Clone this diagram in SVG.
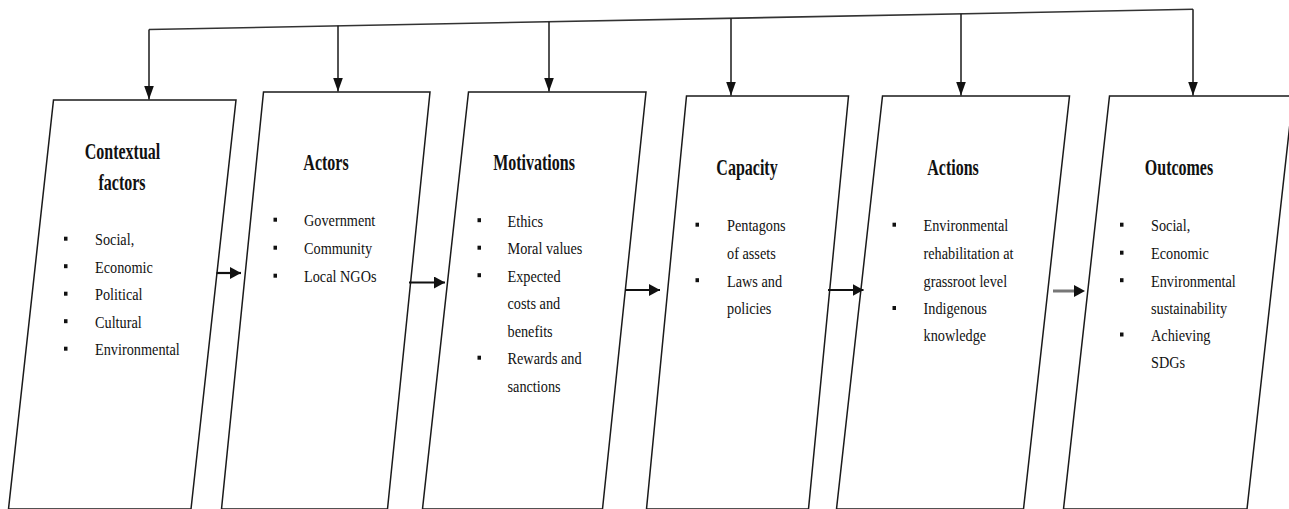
<svg xmlns="http://www.w3.org/2000/svg" width="1289" height="509" viewBox="0 0 1289 509">
  <style>
    .box { fill: #ffffff; stroke: #1a1a1a; stroke-width: 1.5; }
    .ttl { font-family: "Liberation Serif", "Times New Roman", serif; font-weight: bold; font-size: 24px; fill: #111; text-anchor: middle; }
    .itm { font-family: "Liberation Serif", "Times New Roman", serif; font-size: 17px; fill: #111; }
    .bul { fill: #111; }
    .top { fill: none; stroke: #333; stroke-width: 1.6; }
    .vline { stroke: #1a1a1a; stroke-width: 1.5; fill: none; }
    .hline { stroke: #111; stroke-width: 2.2; fill: none; }
    .hgray { stroke: #777; stroke-width: 3; fill: none; }
  </style>
  <defs>
    <marker id="vhead" markerUnits="userSpaceOnUse" markerWidth="14" markerHeight="10" refX="14" refY="5" orient="auto">
      <path d="M0,0 L14,5 L0,10 z" fill="#111"/>
    </marker>
    <marker id="hhead" markerUnits="userSpaceOnUse" markerWidth="11" markerHeight="12" refX="11" refY="6" orient="auto">
      <path d="M0,0 L11,6 L0,12 z" fill="#111"/>
    </marker>
  </defs>
  <rect width="1289" height="509" fill="#ffffff"/>

  <g id="node-contextual">
    <polygon class="box" points="53.5,100 236,100 191,509 8.5,509"/>
    <text class="ttl" transform="translate(122.5,159) scale(0.667,1)">Contextual</text>
    <text class="ttl" transform="translate(122,190) scale(0.667,1)">factors</text>
    <rect class="bul" x="64" y="236.7" width="3.5" height="4"/>
    <rect class="bul" x="64" y="264.2" width="3.5" height="4"/>
    <rect class="bul" x="64" y="291.7" width="3.5" height="4"/>
    <rect class="bul" x="64" y="319.2" width="3.5" height="4"/>
    <rect class="bul" x="64" y="346.7" width="3.5" height="4"/>
    <text class="itm" transform="translate(95,245) scale(0.84,1)">Social,</text>
    <text class="itm" transform="translate(95,272.5) scale(0.84,1)">Economic</text>
    <text class="itm" transform="translate(95,300) scale(0.84,1)">Political</text>
    <text class="itm" transform="translate(95,327.5) scale(0.84,1)">Cultural</text>
    <text class="itm" transform="translate(95,355) scale(0.84,1)">Environmental</text>
  </g>

  <g id="node-actors">
    <polygon class="box" points="263.5,92 430,92 387.5,509 221.5,509"/>
    <text class="ttl" transform="translate(326,170) scale(0.667,1)">Actors</text>
    <rect class="bul" x="273.5" y="217.7" width="3.5" height="4"/>
    <rect class="bul" x="273.5" y="245.7" width="3.5" height="4"/>
    <rect class="bul" x="273.5" y="273.7" width="3.5" height="4"/>
    <text class="itm" transform="translate(304,226) scale(0.84,1)">Government</text>
    <text class="itm" transform="translate(304,254) scale(0.84,1)">Community</text>
    <text class="itm" transform="translate(304,282) scale(0.84,1)">Local NGOs</text>
  </g>

  <g id="node-motivations">
    <polygon class="box" points="468.5,92 646,92 602.5,509 422.5,509"/>
    <text class="ttl" transform="translate(534,170) scale(0.667,1)">Motivations</text>
    <rect class="bul" x="477.5" y="218.2" width="3.5" height="4"/>
    <rect class="bul" x="477.5" y="245.7" width="3.5" height="4"/>
    <rect class="bul" x="477.5" y="273.2" width="3.5" height="4"/>
    <rect class="bul" x="477.5" y="355.7" width="3.5" height="4"/>
    <text class="itm" transform="translate(507.5,226.5) scale(0.84,1)">Ethics</text>
    <text class="itm" transform="translate(507.5,254) scale(0.84,1)">Moral values</text>
    <text class="itm" transform="translate(507.5,281.5) scale(0.84,1)">Expected</text>
    <text class="itm" transform="translate(507.5,309) scale(0.84,1)">costs and</text>
    <text class="itm" transform="translate(507.5,336.5) scale(0.84,1)">benefits</text>
    <text class="itm" transform="translate(507.5,364) scale(0.84,1)">Rewards and</text>
    <text class="itm" transform="translate(507.5,391.5) scale(0.84,1)">sanctions</text>
  </g>

  <g id="node-capacity">
    <polygon class="box" points="686.5,96 848.5,96 808.5,509 646.5,509"/>
    <text class="ttl" transform="translate(747,174.5) scale(0.667,1)">Capacity</text>
    <rect class="bul" x="695.5" y="222.7" width="3.5" height="4"/>
    <rect class="bul" x="695.5" y="278.2" width="3.5" height="4"/>
    <text class="itm" transform="translate(727,231) scale(0.84,1)">Pentagons</text>
    <text class="itm" transform="translate(727,258.5) scale(0.84,1)">of assets</text>
    <text class="itm" transform="translate(727,286.5) scale(0.84,1)">Laws and</text>
    <text class="itm" transform="translate(727,314) scale(0.84,1)">policies</text>
  </g>

  <g id="node-actions">
    <polygon class="box" points="882.5,96 1069.5,96 1023.5,509 836.5,509"/>
    <text class="ttl" transform="translate(953,174.5) scale(0.667,1)">Actions</text>
    <rect class="bul" x="892.5" y="222.7" width="3.5" height="4"/>
    <rect class="bul" x="892.5" y="306" width="3.5" height="4"/>
    <text class="itm" transform="translate(923.5,231) scale(0.84,1)">Environmental</text>
    <text class="itm" transform="translate(923.5,259) scale(0.84,1)">rehabilitation at</text>
    <text class="itm" transform="translate(923.5,286.5) scale(0.84,1)">grassroot level</text>
    <text class="itm" transform="translate(923.5,314.3) scale(0.84,1)">Indigenous</text>
    <text class="itm" transform="translate(923.5,341) scale(0.84,1)">knowledge</text>
  </g>

  <g id="node-outcomes">
    <polygon class="box" points="1109.5,96 1293,96 1247,509 1063.5,509"/>
    <text class="ttl" transform="translate(1179,174.5) scale(0.667,1)">Outcomes</text>
    <rect class="bul" x="1120" y="222.7" width="3.5" height="4"/>
    <rect class="bul" x="1120" y="250.7" width="3.5" height="4"/>
    <rect class="bul" x="1120" y="278.2" width="3.5" height="4"/>
    <rect class="bul" x="1120" y="332.5" width="3.5" height="4"/>
    <text class="itm" transform="translate(1151,231) scale(0.84,1)">Social,</text>
    <text class="itm" transform="translate(1151,259) scale(0.84,1)">Economic</text>
    <text class="itm" transform="translate(1151,286.5) scale(0.84,1)">Environmental</text>
    <text class="itm" transform="translate(1151,314.3) scale(0.84,1)">sustainability</text>
    <text class="itm" transform="translate(1151,341) scale(0.84,1)">Achieving</text>
    <text class="itm" transform="translate(1151,368.3) scale(0.84,1)">SDGs</text>
  </g>

  <g id="connectors">
    <polyline class="top" points="149,29.5 1193,9.3"/>
    <line class="vline" x1="149" y1="29.5" x2="149" y2="99.5" marker-end="url(#vhead)"/>
    <line class="vline" x1="338" y1="25.8" x2="338" y2="91.5" marker-end="url(#vhead)"/>
    <line class="vline" x1="549" y1="21.8" x2="549" y2="91.5" marker-end="url(#vhead)"/>
    <line class="vline" x1="731" y1="18.2" x2="731" y2="95.5" marker-end="url(#vhead)"/>
    <line class="vline" x1="961" y1="13.8" x2="961" y2="95.5" marker-end="url(#vhead)"/>
    <line class="vline" x1="1193" y1="9.3" x2="1193" y2="95.5" marker-end="url(#vhead)"/>

    <line class="hline" x1="216.5" y1="273" x2="241" y2="273" marker-end="url(#hhead)"/>
    <line class="hline" x1="409" y1="282.5" x2="445" y2="282.5" marker-end="url(#hhead)"/>
    <line class="hline" x1="625" y1="290" x2="660" y2="290" marker-end="url(#hhead)"/>
    <line class="hline" x1="828" y1="290" x2="863.5" y2="290" marker-end="url(#hhead)"/>
    <line class="hgray" x1="1053" y1="291" x2="1076" y2="291"/>
    <path d="M1074,285 L1085,291 L1074,297 z" fill="#111"/>
  </g>
</svg>
